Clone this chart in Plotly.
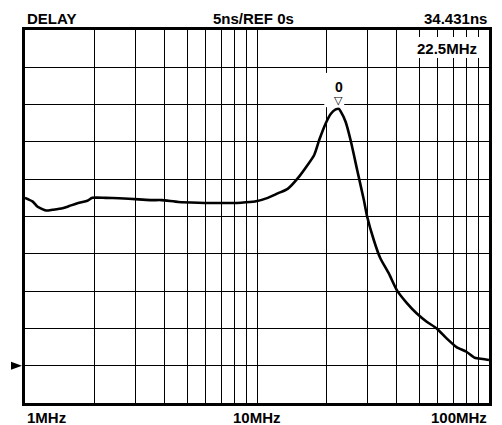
import math
import plotly.graph_objects as go

# ---- data ----
freq_mhz = [1.0, 1.08, 1.134, 1.232, 1.315, 1.451, 1.551, 1.712, 1.857, 1.951,
            2.227, 2.538, 3.092, 3.514, 3.878, 4.585, 5.585, 7.006, 8.533, 9.795,
            11.13, 12.29, 13.56, 14.97, 16.52, 17.64, 18.54, 19.79, 20.78, 21.83,
            22.5, 22.94, 24.09, 25.31, 27.04, 28.88, 29.83, 31.87, 34.01, 36.95,
            40.11, 44.26, 48.85, 53.9, 59.5, 65.65, 72.44, 79.94, 86.78, 94.26, 100.0]
delay_ns = [22.5, 22.0, 21.3, 20.8, 20.9, 21.1, 21.4, 21.85, 22.1, 22.5,
            22.5, 22.45, 22.3, 22.2, 22.2, 21.95, 21.85, 21.8, 21.85, 22.0,
            22.5, 23.1, 23.7, 25.1, 26.9, 28.25, 30.25, 32.5, 33.74, 34.35,
            34.431, 34.1, 32.7, 30.25, 26.2, 22.2, 20.0, 16.85, 14.4, 12.4,
            10.1, 8.4, 7.0, 5.9, 5.0, 3.66, 2.5, 1.87, 1.07, 0.9, 0.77]

x_tick_labels = ["1MHz", "10MHz", "100MHz"]
x_tick_values = [1, 10, 100]
grid_freqs = [m * 10 ** d for d in range(2) for m in range(1, 10)] + [100]

scale_ns_per_div = 5
ref_ns = 0
n_divs = 10
ref_div = 1
marker_freq = 22.5
marker_delay = 34.431
marker_label = "0"

y_min = ref_ns - ref_div * scale_ns_per_div
y_max = y_min + n_divs * scale_ns_per_div

FONT = "Liberation Sans, Arial, sans-serif"

fig = go.Figure()
fig.add_trace(go.Scatter(x=freq_mhz, y=delay_ns, mode="lines",
                         line=dict(color="black", width=2.6, shape="spline", smoothing=0.6),
                         hoverinfo="skip", showlegend=False))

fig.update_layout(
    width=502, height=425,
    margin=dict(l=25, r=10, t=30, b=22),
    paper_bgcolor="white", plot_bgcolor="white",
    showlegend=False,
    xaxis=dict(type="log", range=[0, 2], tickvals=grid_freqs, showticklabels=False,
               ticks="", showgrid=True, gridcolor="#000", gridwidth=1.4,
               showline=True, linecolor="black", linewidth=2.5, mirror=True,
               zeroline=False, fixedrange=True),
    yaxis=dict(range=[y_min, y_max], dtick=scale_ns_per_div, tick0=y_min,
               showticklabels=False, ticks="", showgrid=True, gridcolor="#000",
               gridwidth=1.4, showline=True, linecolor="black", linewidth=2.5,
               mirror=True, zeroline=False, fixedrange=True),
)

bold = dict(family=FONT, size=15, color="black", weight="bold")

# header texts
fig.add_annotation(text="DELAY", xref="paper", yref="paper", x=0, y=1,
                   xanchor="left", yanchor="middle", yshift=12, showarrow=False, font=bold)
fig.add_annotation(text=f"{scale_ns_per_div}ns/REF {ref_ns}s", xref="paper", yref="paper",
                   x=0.493, y=1, xanchor="center", yanchor="middle", yshift=12,
                   showarrow=False, font=bold)
fig.add_annotation(text=f"{marker_delay}ns", xref="paper", yref="paper", x=1, y=1,
                   xanchor="right", yanchor="middle", yshift=12, showarrow=False, font=bold)

# bottom tick labels
anchors = ["left", "center", "right"]
for val, lab, anc in zip(x_tick_values, x_tick_labels, anchors):
    fig.add_annotation(text=lab, x=math.log10(val), y=0, xref="x", yref="paper",
                       xanchor=anc, yanchor="middle", yshift=-14, showarrow=False, font=bold)

# white boxes masking the grid behind the readouts
fig.add_shape(type="rect", xref="paper", yref="paper", x0=0.826, x1=0.992, y0=0.925, y1=0.981,
              fillcolor="white", line=dict(width=0), layer="above")
fig.add_shape(type="rect", xref="paper", yref="paper", x0=0.645, x1=0.688, y0=0.793, y1=0.885,
              fillcolor="white", line=dict(width=0), layer="above")

# marker frequency readout
fig.add_annotation(text=f"{marker_freq}MHz", xref="paper", yref="paper", x=1, y=0.981,
                   xanchor="right", yanchor="middle", xshift=-10, yshift=-11,
                   showarrow=False, font=bold)

# marker label and symbol
fig.add_annotation(text=marker_label, x=math.log10(marker_freq), y=marker_delay,
                   xref="x", yref="y", xanchor="center", yanchor="middle", yshift=22,
                   showarrow=False, font=dict(family=FONT, size=14, color="black", weight="bold"))
fig.add_annotation(text="▽", x=math.log10(marker_freq), y=marker_delay,
                   xref="x", yref="y", xanchor="center", yanchor="middle", yshift=8,
                   showarrow=False, font=dict(family="DejaVu Sans", size=11, color="black",
                                              weight="bold"))

# reference level arrow
fig.add_shape(type="path", xref="paper", xsizemode="pixel", xanchor=0,
              yref="y", ysizemode="pixel", yanchor=ref_ns,
              path="M -14,-4 L -3,0 L -14,4 Z", fillcolor="black", line=dict(width=0))

fig.write_html("out.html", config={"displayModeBar": False},
               post_script="document.body.style.margin='0';")
